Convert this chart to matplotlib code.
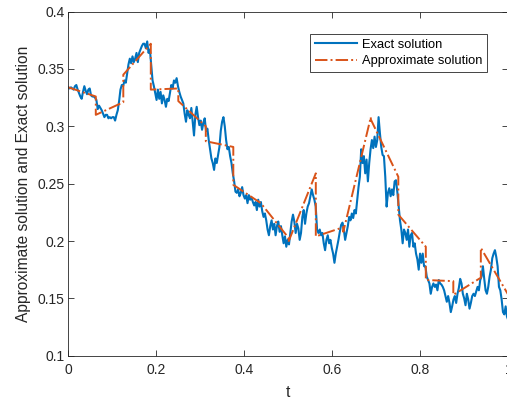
import numpy as np
import matplotlib
matplotlib.use('Agg')
import matplotlib.pyplot as plt
from matplotlib.ticker import FixedLocator, FixedFormatter

plt.rcParams['font.family'] = ['Liberation Sans', 'DejaVu Sans']

# exact solution on a uniform time grid
exact = [
    0.334, 0.333, 0.334, 0.333, 0.332, 0.335, 0.336, 0.332, 0.329, 0.326,
    0.324, 0.330, 0.335, 0.331, 0.328, 0.332, 0.333, 0.327, 0.326, 0.326,
    0.325, 0.323, 0.315, 0.318, 0.316, 0.314, 0.311, 0.308, 0.310, 0.310,
    0.307, 0.308, 0.307, 0.308, 0.308, 0.305, 0.310,
    0.314, 0.322, 0.332, 0.336, 0.335, 0.340, 0.338, 0.346, 0.354, 0.359,
    0.355, 0.361, 0.356, 0.359, 0.364, 0.356, 0.364, 0.367, 0.370, 0.372,
    0.372, 0.368, 0.374, 0.364, 0.367, 0.354, 0.340, 0.335, 0.329, 0.323,
    0.332, 0.324, 0.330, 0.320, 0.327, 0.323, 0.317, 0.324, 0.322, 0.329,
    0.336, 0.333, 0.340, 0.338, 0.342, 0.335, 0.330, 0.326, 0.323, 0.320,
    0.311, 0.304, 0.314, 0.310, 0.307, 0.316, 0.304, 0.292, 0.310, 0.317,
    0.308, 0.301, 0.305, 0.297, 0.303, 0.307, 0.296, 0.298, 0.288, 0.280,
    0.272, 0.268, 0.262, 0.272, 0.268, 0.275, 0.282, 0.296, 0.304, 0.308,
    0.300, 0.288, 0.280, 0.282, 0.274, 0.268, 0.259, 0.252, 0.243, 0.242,
    0.245, 0.239, 0.242, 0.247, 0.240, 0.237, 0.240, 0.233, 0.240, 0.236,
    0.238, 0.234, 0.231, 0.234, 0.227, 0.236, 0.230, 0.234, 0.226, 0.221,
    0.224, 0.218, 0.210, 0.205, 0.213, 0.218, 0.210, 0.215, 0.205, 0.213,
    0.217, 0.208, 0.213, 0.205, 0.198, 0.204, 0.195, 0.201, 0.197, 0.207,
    0.217, 0.223, 0.217, 0.207, 0.215, 0.211, 0.201, 0.207, 0.221, 0.227,
    0.215, 0.224, 0.230, 0.233, 0.239, 0.245, 0.240, 0.236, 0.230, 0.210,
    0.207, 0.210, 0.205, 0.207, 0.198, 0.192, 0.201, 0.205, 0.198, 0.201,
    0.194, 0.189, 0.181, 0.189, 0.195, 0.201, 0.208, 0.214, 0.216, 0.210,
    0.201, 0.207, 0.213, 0.221, 0.218, 0.224, 0.220, 0.227, 0.224, 0.236,
    0.247, 0.256, 0.280, 0.268, 0.274, 0.259, 0.271, 0.252, 0.268, 0.280,
    0.288, 0.281, 0.291, 0.282, 0.288, 0.308, 0.294, 0.282, 0.275, 0.274,
    0.256, 0.230, 0.242, 0.246, 0.239, 0.245, 0.240, 0.252, 0.253, 0.243,
    0.230, 0.218, 0.210, 0.198, 0.210, 0.207, 0.201, 0.210, 0.195, 0.205,
    0.207, 0.195, 0.198, 0.189, 0.184, 0.175, 0.189, 0.181, 0.189, 0.178,
    0.178, 0.169, 0.166, 0.163, 0.154, 0.160, 0.163, 0.160, 0.162, 0.157,
    0.166, 0.163, 0.162, 0.160, 0.157, 0.152, 0.147, 0.152, 0.146, 0.138,
    0.143, 0.149, 0.152, 0.146, 0.154, 0.159, 0.167, 0.163, 0.154, 0.150,
    0.144, 0.154, 0.149, 0.141, 0.146, 0.152, 0.154, 0.152, 0.156, 0.160,
    0.157, 0.166, 0.169, 0.178, 0.167, 0.157, 0.154, 0.160, 0.169, 0.175,
    0.185, 0.189, 0.192, 0.186, 0.178, 0.160, 0.157, 0.149, 0.138, 0.136,
    0.143, 0.134, 0.131,
]
t_exact = np.linspace(0, 1, len(exact))

# approximate solution: one linear piece per step of size 1/16
steps = [0, 1/16, 2/16, 3/16, 4/16, 5/16, 6/16, 7/16, 8/16,
         9/16, 10/16, 11/16, 12/16, 13/16, 14/16, 15/16, 1]
approx_start = [0.334, 0.310, 0.345, 0.332, 0.322, 0.287, 0.249, 0.233,
                0.199, 0.204, 0.208, 0.306, 0.223, 0.166, 0.153, 0.194]
approx_end = [0.326, 0.321, 0.372, 0.333, 0.300, 0.282, 0.233, 0.203,
              0.259, 0.212, 0.308, 0.256, 0.195, 0.165, 0.168, 0.153]

t_approx = []
v_approx = []
for k in range(len(approx_start)):
    t_approx += [steps[k], steps[k + 1]]
    v_approx += [approx_start[k], approx_end[k]]

xticks = [0, 0.2, 0.4, 0.6, 0.8, 1]
xticklabels = ['0', '0.2', '0.4', '0.6', '0.8', '1']
yticks = [0.1, 0.15, 0.2, 0.25, 0.3, 0.35, 0.4]
yticklabels = ['0.1', '0.15', '0.2', '0.25', '0.3', '0.35', '0.4']

fig = plt.figure(figsize=(5.07, 4.01), dpi=100)
ax = fig.add_axes([0.1347, 0.113, 0.8679, 0.858])

ax.plot(t_exact, exact, color='#0072BD', lw=1.5, label='Exact solution')
ax.plot(t_approx, v_approx, color='#D95319', lw=1.4, ls='-.',
        label='Approximate solution')

ax.set_xlim(0, 1)
ax.set_ylim(0.1, 0.4)
ax.xaxis.set_major_locator(FixedLocator(xticks))
ax.xaxis.set_major_formatter(FixedFormatter(xticklabels))
ax.yaxis.set_major_locator(FixedLocator(yticks))
ax.yaxis.set_major_formatter(FixedFormatter(yticklabels))

ax.tick_params(direction='in', top=True, right=True, length=4, width=0.6,
               color='#262626', labelcolor='#262626', labelsize=10)
ax.tick_params(axis='x', pad=5)
ax.tick_params(axis='y', pad=2.5)
for s in ax.spines.values():
    s.set_color('#262626')
    s.set_linewidth(0.6)

ax.set_xlabel('t', fontsize=11.2, color='#262626', labelpad=6)
ax.set_ylabel('Approximate solution and Exact solution', fontsize=11.2,
              color='#262626', labelpad=5)

leg = ax.legend(loc='upper right', bbox_to_anchor=(0.952, 0.935),
                borderaxespad=0, fontsize=9.3, fancybox=False, framealpha=1,
                edgecolor='#262626', borderpad=0.35, handlelength=3.3,
                labelspacing=0.35, handletextpad=0.4)
leg.get_frame().set_linewidth(0.6)

fig.savefig('out.png', dpi=100)
